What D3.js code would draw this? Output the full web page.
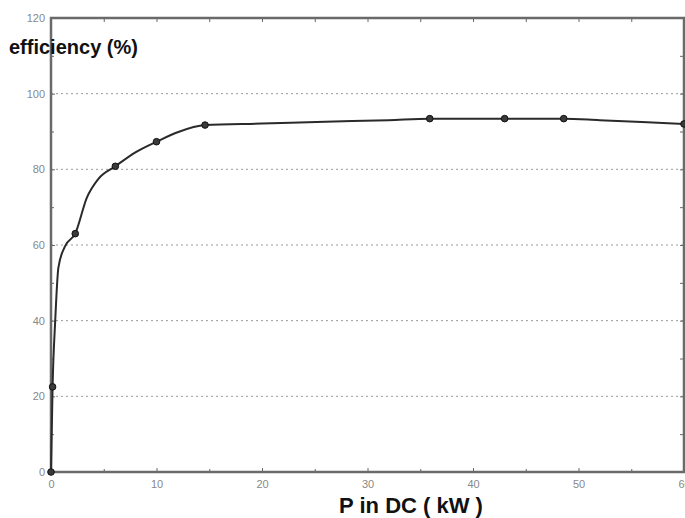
<!DOCTYPE html>
<html><head><meta charset="utf-8">
<script src="https://cdn.jsdelivr.net/npm/d3@7"></script>
<style>body{margin:0;background:#fff;}svg{display:block;}</style>
</head><body>
<svg id="c" width="685" height="518"></svg>
<script>
// curve trace (P in kW, efficiency %)
const curveP   = [0, 0.15, 0.4, 0.7, 1.3, 2.3, 3.4, 4.5, 6.1, 8, 10, 12, 14.6, 20, 26, 32, 35.9, 43, 48.6, 52, 56, 60];
const curveEff = [0, 22.5, 40, 54, 59.5, 63, 72.5, 77.5, 80.8, 84.5, 87.3, 89.8, 91.7, 92.1, 92.6, 93.0, 93.4, 93.4, 93.4, 93.0, 92.5, 92];
// measured points (markers)
const markP   = [0, 0.15, 2.3, 6.1, 10, 14.6, 35.9, 43, 48.6, 60];
const markEff = [0, 22.5, 63, 80.8, 87.3, 91.7, 93.4, 93.4, 93.4, 92];
const xTicks = [0, 10, 20, 30, 40, 50, 60];
const yTicks = [0, 20, 40, 60, 80, 100, 120];
const xMinor = [5, 15, 25, 35, 45, 55];
const yMinor = [10, 30, 50, 70, 90, 110];
const gridY = [20, 40, 60, 80, 100];

const svg = d3.select('#c');
const L = 51, R = 684, T = 18, B = 472;
const x = d3.scaleLinear().domain([0, 60]).range([L, R]);
const y = d3.scaleLinear().domain([0, 120]).range([B, T]);

// grid
svg.append('g').selectAll('line').data(gridY).join('line')
  .attr('x1', L).attr('x2', R).attr('y1', d => y(d)).attr('y2', d => y(d))
  .attr('stroke', '#9a9a9a').attr('stroke-width', 1).attr('stroke-dasharray', '2,3');

// axes ticks/labels
const tickStyle = g => {
  g.select('.domain').remove();
  g.selectAll('.tick line').attr('stroke', '#666');
  g.selectAll('.tick text').attr('fill', '#888888').style('font-family', 'Liberation Sans, Arial, sans-serif').style('font-size', '11px');
};
svg.append('g').attr('transform', `translate(0,${B})`)
  .call(d3.axisBottom(x).tickValues(xTicks).tickSize(-4).tickPadding(8).tickFormat(d3.format('d'))).call(tickStyle);
svg.append('g').attr('transform', `translate(0,${B})`)
  .call(d3.axisBottom(x).tickValues(xMinor).tickSize(-3).tickFormat('')).call(tickStyle);
svg.append('g').attr('transform', `translate(0,${T})`)
  .call(d3.axisTop(x).tickValues(xTicks.concat(xMinor)).tickSize(-4).tickFormat('')).call(tickStyle);
svg.append('g').attr('transform', `translate(${L},0)`)
  .call(d3.axisLeft(y).tickValues(yTicks).tickSize(-4).tickPadding(6).tickFormat(d3.format('d'))).call(tickStyle);
svg.append('g').attr('transform', `translate(${L},0)`)
  .call(d3.axisLeft(y).tickValues(yMinor).tickSize(-3).tickFormat('')).call(tickStyle);
svg.append('g').attr('transform', `translate(${R},0)`)
  .call(d3.axisRight(y).tickValues(yTicks.concat(yMinor)).tickSize(-4).tickFormat('')).call(tickStyle);

// frame
svg.append('rect').attr('x', L).attr('y', T).attr('width', R - L).attr('height', B - T)
  .attr('fill', 'none').attr('stroke', '#6a6a6a').attr('stroke-width', 2.5);

// curve
const pts = curveP.map((p, i) => [p, curveEff[i]]);
svg.append('path').datum(pts)
  .attr('d', d3.line().x(d => x(d[0])).y(d => y(d[1])).curve(d3.curveMonotoneX))
  .attr('fill', 'none').attr('stroke', '#2a2a2a').attr('stroke-width', 2);

// markers
svg.append('g').selectAll('circle').data(markP.map((p, i) => [p, markEff[i]])).join('circle')
  .attr('cx', d => x(d[0])).attr('cy', d => y(d[1])).attr('r', 3.3)
  .attr('fill', '#3a3a3a').attr('stroke', '#111').attr('stroke-width', 1);

// axis titles
svg.append('text').attr('x', 9).attr('y', 54).text('efficiency (%)')
  .style('font-family', 'Liberation Sans, Arial, sans-serif').style('font-weight', 'bold').style('font-size', '20px').attr('fill', '#111');
svg.append('text').attr('x', 411).attr('y', 513).attr('text-anchor', 'middle').text('P in DC ( kW )')
  .style('font-family', 'Liberation Sans, Arial, sans-serif').style('font-weight', 'bold').style('font-size', '22px').attr('fill', '#111');
</script>
</body></html>
